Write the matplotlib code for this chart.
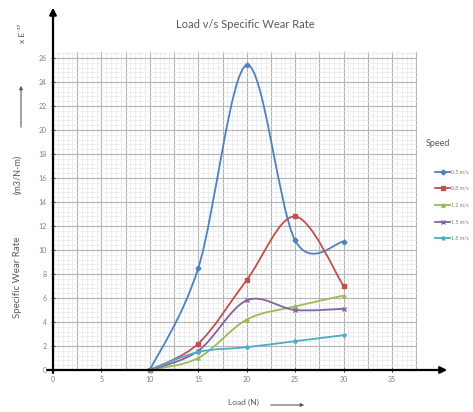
import matplotlib
matplotlib.use('Agg')
import matplotlib.pyplot as plt
import numpy as np
from matplotlib.path import Path
from matplotlib.patches import PathPatch
from matplotlib.lines import Line2D

plt.rcParams['font.family'] = ['Lato', 'DejaVu Sans']

# ---- data ----
load = [10, 15, 20, 25, 30]
speed_1 = [0, 8.5, 25.4, 10.8, 10.7]
speed_2 = [0, 2.2, 7.5, 12.8, 7.0]
speed_3 = [0, 1.0, 4.2, 5.3, 6.2]
speed_4 = [0, 1.6, 5.8, 5.0, 5.1]
speed_5 = [0, 1.5, 1.9, 2.4, 2.9]
series_labels = ['0.5 m/s', '0.8 m/s', '1.2 m/s', '1.5 m/s', '1.8 m/s']
x_ticks = [0, 5, 10, 15, 20, 25, 30, 35]
y_ticks = list(range(0, 27, 2))

colors = ['#4F81BD', '#C0504D', '#9BBB59', '#8064A2', '#4BACC6']
markers = ['D', 's', '^', 'x', '*']
msizes = [2.5, 3, 2.5, 2.5, 3]

W, H = 473, 412
fig = plt.figure(figsize=(W / 100, H / 100), dpi=100)

# pixel mapping: x=0 at px 53, 9.686 px/unit ; y=0 at py 370, 12 px/unit
ax = fig.add_axes([40 / W, 34 / H, 410 / W, 373 / H])
ax.set_xlim((40 - 53) / 9.686, (450 - 53) / 9.686)
ax.set_ylim((370 - 378) / 12, (370 - 5) / 12)
ax.patch.set_alpha(0)

# grid
gx_max, gy_max = 37.5, 26.5
for xv in np.arange(0, gx_max + 1e-6, 0.5):
    major = abs(xv / 2.5 - round(xv / 2.5)) < 1e-6
    ax.plot([xv, xv], [0, gy_max], color='#b4b4b4' if major else '#e8e8e8',
            lw=0.8 if major else 0.5, zorder=0)
for yv in np.arange(0, gy_max + 1e-6, 0.4):
    major = abs(yv / 2 - round(yv / 2)) < 1e-6
    ax.plot([0, gx_max], [yv, yv], color='#b4b4b4' if major else '#e8e8e8',
            lw=0.8 if major else 0.5, zorder=0)


def smooth_path(xs, ys):
    pts = np.column_stack([xs, ys]).astype(float)
    n = len(pts)
    verts = [pts[0]]
    codes = [Path.MOVETO]
    for i in range(n - 1):
        p0 = pts[i - 1] if i > 0 else pts[i]
        p1 = pts[i]
        p2 = pts[i + 1]
        p3 = pts[i + 2] if i + 2 < n else pts[i + 1]
        c1 = p1 + (p2 - p0) / 6
        c2 = p2 - (p3 - p1) / 6
        verts += [c1, c2, p2]
        codes += [Path.CURVE4] * 3
    return Path(verts, codes)


all_series = [speed_1, speed_2, speed_3, speed_4, speed_5]
for ys, c, m, ms in zip(all_series, colors, markers, msizes):
    ax.add_patch(PathPatch(smooth_path(load, ys), facecolor='none',
                           edgecolor=c, lw=1.3, zorder=3))
    ax.plot(load, ys, linestyle='none', marker=m, color=c, ms=ms,
            mew=1, zorder=4)

# axes
for s in ['top', 'right']:
    ax.spines[s].set_visible(False)
ax.spines['left'].set_position(('data', 0))
ax.spines['bottom'].set_position(('data', 0))
ax.spines['left'].set_linewidth(0)
ax.spines['bottom'].set_linewidth(0)
ax.annotate('', xy=(40.7, 0), xytext=(-0.6, 0),
            arrowprops=dict(arrowstyle='-|>', lw=1.6, color='black',
                            mutation_scale=10, shrinkA=0, shrinkB=0), zorder=5)
ax.annotate('', xy=(0, 30.2), xytext=(0, -0.25),
            arrowprops=dict(arrowstyle='-|>', lw=1.6, color='black',
                            mutation_scale=10, shrinkA=0, shrinkB=0), zorder=5)

ax.set_xticks(x_ticks)
ax.set_yticks(y_ticks)
ax.set_xticklabels([str(v) for v in x_ticks])
ax.set_yticklabels([str(v) for v in y_ticks])
ax.tick_params(axis='both', direction='inout', length=3, width=0.8,
               colors='#333333', labelsize=5, labelcolor='#7f7f7f', pad=3)

# title and labels
fig.text(245 / W, 1 - 25 / H, 'Load v/s Specific Wear Rate', ha='center',
         va='center', fontsize=8, color='#595959')
fig.text(18 / W, 1 - 277 / H, 'Specific Wear Rate', rotation=90, ha='center',
         va='center', fontsize=7, color='#595959')
fig.text(18 / W, 1 - 174 / H, '(m3/N-m)', rotation=90, ha='center',
         va='center', fontsize=6.5, color='#595959')
fig.add_artist(matplotlib.patches.FancyArrowPatch(
    (21 / W, 1 - 130 / H), (21 / W, 1 - 83 / H), transform=fig.transFigure,
    arrowstyle='-|>', mutation_scale=5, lw=0.8, color='#595959'))
fig.text(22 / W, 1 - 33 / H, 'x E\u207b\u00b9\u2077', rotation=90, ha='center',
         va='center', fontsize=6, color='#595959')

fig.text(243 / W, 1 - 402 / H, 'Load (N)', ha='center', va='center',
         fontsize=6, color='#595959')
fig.add_artist(matplotlib.patches.FancyArrowPatch(
    (268 / W, 1 - 405 / H), (307 / W, 1 - 405 / H), transform=fig.transFigure,
    arrowstyle='-|>', mutation_scale=5, lw=0.8, color='#595959'))

# legend
fig.text(426 / W, 1 - 144 / H, 'Speed', ha='left', va='center', fontsize=6.5,
         color='#595959')
rows = [172, 188, 205, 222, 238]
for r, c, m, ms, lab in zip(rows, colors, markers, msizes, series_labels):
    yy = 1 - r / H
    fig.add_artist(Line2D([435 / W, 450 / W], [yy, yy], color=c, lw=1.3,
                          transform=fig.transFigure))
    fig.add_artist(Line2D([442.5 / W], [yy], color=c, marker=m, ms=ms,
                          transform=fig.transFigure))
    fig.text(451 / W, yy, lab, ha='left', va='center', fontsize=3.8,
             color='#7f7f7f')

fig.savefig('out.png', dpi=100)
